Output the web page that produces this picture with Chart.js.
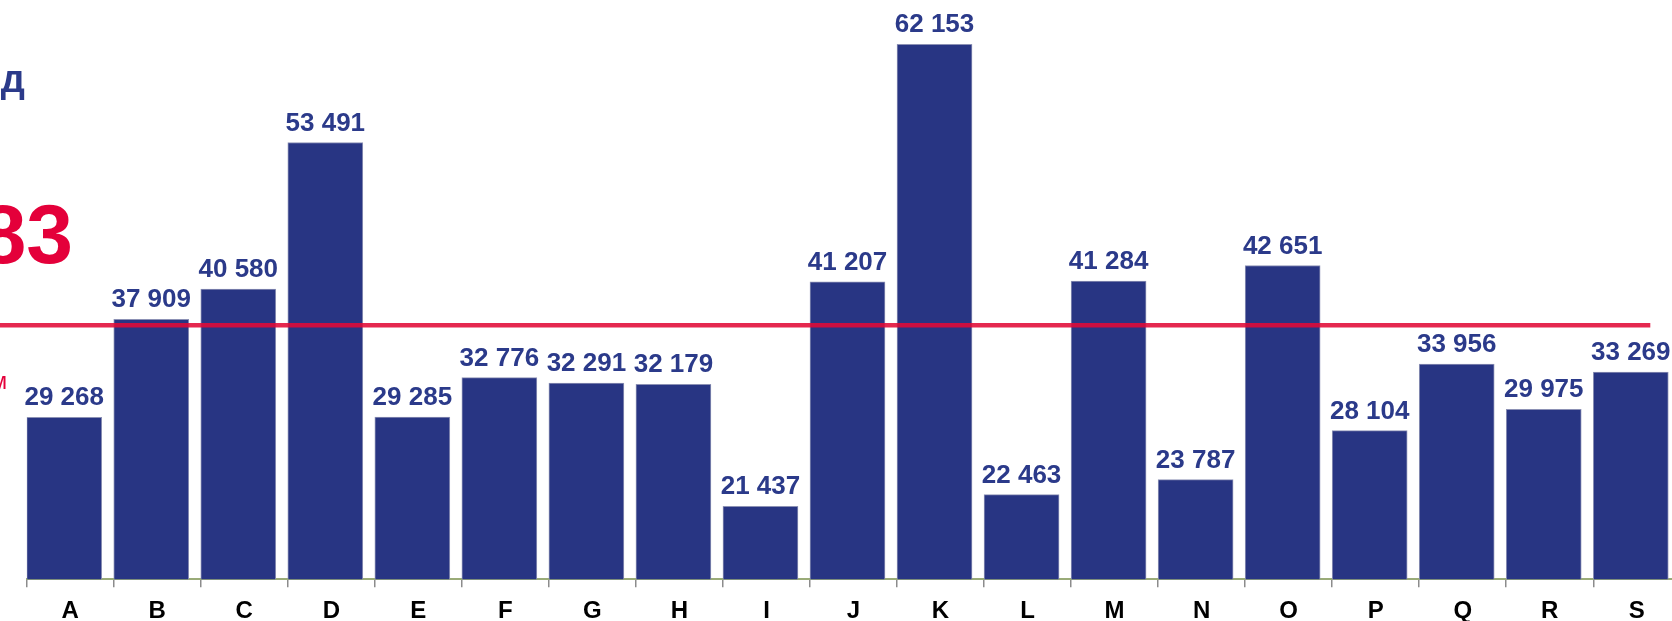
<!DOCTYPE html>
<html>
<head>
<meta charset="utf-8">
<script src="https://cdn.jsdelivr.net/npm/chart.js@4.4.1/dist/chart.umd.min.js"></script>
<style>
    html, body { margin: 0; padding: 0; background: #fff; }
    body { width: 1672px; height: 621px; overflow: hidden; position: relative; font-family: "Liberation Sans", Arial, sans-serif; }
    #wrap { position: absolute; left: 0; top: 0; width: 1700px; height: 621px; }
    .side { position: absolute; white-space: nowrap; text-align: right; line-height: 1; }
    #t1 { left: -400px; width: 425px; top: 60px; font-size: 38px; font-weight: bold; color: #2b3a8a; }
    #t2 { left: -400px; width: 473px; top: 192px; font-size: 84px; font-weight: bold; color: #e4003a; }
    #t3 { left: -400px; width: 407px; top: 370px; font-size: 23px; color: #e4003a; }
</style>
</head>
<body>
<div id="wrap"><canvas id="barChart"></canvas></div>
<div class="side" id="t1">год</div>
<div class="side" id="t2">37 383</div>
<div class="side" id="t3">в среднем</div>
<script>
const categories = ['A', 'B', 'C', 'D', 'E', 'F', 'G', 'H', 'I', 'J', 'K', 'L', 'M', 'N', 'O', 'P', 'Q', 'R', 'S'];
const values = [29268, 37909, 40580, 53491, 29285, 32776, 32291, 32179, 21437, 41207, 62153, 22463, 41284, 23787, 42651, 28104, 33956, 29975, 33269];
const averageValue = 37383;

const BLUE = '#283583';

function formatNum(v) {
    return String(v).replace(/\B(?=(\d{3})+(?!\d))/g, ' ');
}

// value labels above bars
const barLabels = {
    id: 'barLabels',
    afterDatasetsDraw(chart) {
        const ctx = chart.ctx;
        const meta = chart.getDatasetMeta(0);
        ctx.save();
        ctx.font = 'bold 26px "Liberation Sans", Arial, sans-serif';
        ctx.fillStyle = '#2b3a8a';
        ctx.textAlign = 'center';
        ctx.textBaseline = 'alphabetic';
        meta.data.forEach((bar, i) => {
            ctx.fillText(formatNum(values[i]), bar.x, bar.y - 12);
        });
        ctx.restore();
    }
};

// red average line, drawn over the bars
const avgLine = {
    id: 'avgLine',
    afterDatasetsDraw(chart) {
        const ctx = chart.ctx;
        const y = chart.scales.y.getPixelForValue(averageValue);
        ctx.save();
        ctx.strokeStyle = 'rgba(225, 10, 55, 0.88)';
        ctx.lineWidth = 4.5;
        ctx.beginPath();
        ctx.moveTo(0, y);
        ctx.lineTo(chart.chartArea.right - 30, y);
        ctx.stroke();
        ctx.restore();
    }
};

const ctx = document.getElementById('barChart').getContext('2d');
const barChart = new Chart(ctx, {
    type: 'bar',
    data: {
        labels: categories,
        datasets: [{
            data: values.map((v, i) => ({ x: i, y: v })),
            xAxisID: 'xb',
            yAxisID: 'y',
            backgroundColor: BLUE,
            borderColor: '#8c91b5',
            borderWidth: 1,
            barThickness: 75
        }]
    },
    options: {
        responsive: true,
        maintainAspectRatio: false,
        animation: false,
        devicePixelRatio: 1,
        layout: { padding: { left: 26.7, right: 19.7, top: 11.9, bottom: 0 } },
        plugins: {
            legend: { display: false },
            tooltip: { enabled: false }
        },
        scales: {
            x: {
                type: 'category',
                offset: true,
                grid: {
                    offset: true,
                    drawOnChartArea: false,
                    drawTicks: true,
                    tickLength: 8,
                    color: '#8c8c8c',
                    lineWidth: 1.5
                },
                border: { display: true, color: '#9aab78', width: 2 },
                ticks: {
                    color: '#000',
                    padding: 10,
                    maxRotation: 0,
                    font: { family: '"Liberation Sans", Arial, sans-serif', size: 24, weight: 'bold' }
                },
                afterFit: function(scale) { scale.height = 41.7; }
            },
            xb: {
                type: 'linear',
                display: false,
                offset: false,
                bounds: 'ticks',
                grace: 0,
                min: -0.5 + 0.069,
                max: 18.5 + 0.069
            },
            y: {
                type: 'linear',
                display: false,
                min: 15000,
                max: 65000
            }
        }
    },
    plugins: [barLabels, avgLine]
});
</script>
</body>
</html>
